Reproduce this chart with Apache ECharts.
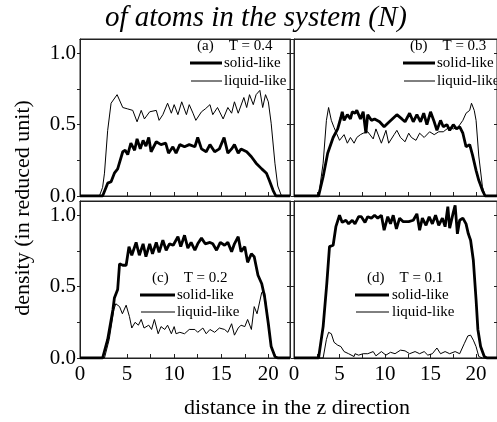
<!DOCTYPE html>
<html>
<head>
<meta charset="utf-8">
<script src="https://cdn.jsdelivr.net/npm/echarts@6/dist/echarts.min.js"></script>
<style>html,body{margin:0;padding:0;background:#fff;}#c{width:497px;height:422px;}</style>
</head>
<body>
<div id="c"></div>
<script>
// ---- data (z, density) ----
var xTicks = [0, 5, 10, 15, 20];
var yTicks = [0, 0.5, 1.0];
var panelLabels = ['(a)    T = 0.4', '(b)    T = 0.3', '(c)    T = 0.2', '(d)    T = 0.1'];
var seriesNames = ['solid-like', 'liquid-like'];

var aSolid = [[0,0],[2.4,0],[2.94,0.09],[3.3,0.10],[3.65,0.16],[4.0,0.19],[4.54,0.31],[4.8,0.32],[5.07,0.29],[5.4,0.37],[5.8,0.32],[6.06,0.40],[6.4,0.33],[6.7,0.39],[7.0,0.35],[7.3,0.41],[7.55,0.31],[8.1,0.38],[8.6,0.36],[9.1,0.37],[9.4,0.30],[9.86,0.345],[10.2,0.30],[10.6,0.36],[11.1,0.345],[11.6,0.36],[12.2,0.345],[12.5,0.41],[12.9,0.33],[13.4,0.31],[13.8,0.36],[14.3,0.31],[14.8,0.33],[15.3,0.41],[15.7,0.30],[16.1,0.33],[16.4,0.36],[16.8,0.30],[17.1,0.33],[17.7,0.31],[18.2,0.275],[18.7,0.23],[19.3,0.19],[19.8,0.16],[20.1,0.11],[20.5,0.04],[20.8,0],[22.3,0]];
var aLiquid = [[0,0],[2.06,0],[2.4,0.06],[2.6,0.16],[2.94,0.46],[3.3,0.65],[3.94,0.71],[4.54,0.62],[5.07,0.61],[5.6,0.60],[6.06,0.52],[6.5,0.60],[6.84,0.54],[7.4,0.59],[8.1,0.60],[8.4,0.53],[8.8,0.57],[9.3,0.65],[9.7,0.58],[10.0,0.64],[10.4,0.57],[10.8,0.66],[11.3,0.57],[11.6,0.64],[12.0,0.58],[12.3,0.53],[12.9,0.59],[13.3,0.61],[13.8,0.64],[14.1,0.57],[14.6,0.62],[15.2,0.54],[15.7,0.62],[16.1,0.58],[16.4,0.66],[16.8,0.58],[17.4,0.69],[17.7,0.62],[18.0,0.71],[18.4,0.64],[18.7,0.71],[19.1,0.74],[19.4,0.62],[19.7,0.71],[20.0,0.66],[20.3,0.51],[20.7,0.23],[21.0,0.07],[21.4,0],[22.3,0]];

var bSolid = [[0,0],[2.7,0],[3.2,0.135],[3.7,0.30],[4.3,0.41],[4.8,0.47],[5.15,0.55],[5.3,0.59],[5.5,0.53],[5.86,0.57],[6.2,0.54],[6.4,0.59],[6.7,0.58],[6.9,0.60],[7.3,0.54],[7.6,0.59],[7.9,0.44],[8.1,0.57],[8.5,0.53],[8.85,0.54],[9.4,0.52],[9.9,0.485],[10.3,0.51],[10.8,0.54],[11.3,0.57],[11.85,0.54],[12.2,0.52],[12.7,0.58],[13.1,0.52],[13.5,0.57],[13.9,0.52],[14.25,0.58],[14.6,0.50],[15.0,0.59],[15.4,0.52],[15.7,0.46],[16.1,0.53],[16.4,0.485],[16.8,0.50],[17.1,0.46],[17.5,0.50],[17.85,0.47],[18.2,0.485],[18.55,0.44],[18.9,0.345],[19.3,0.36],[19.6,0.29],[20.0,0.18],[20.3,0.11],[20.7,0.04],[21.0,0],[22.3,0]];
var bLiquid = [[0,0],[2.7,0],[3.2,0.23],[3.56,0.53],[3.8,0.62],[4.1,0.53],[4.4,0.48],[5.0,0.39],[5.5,0.43],[5.86,0.37],[6.2,0.41],[6.6,0.37],[6.9,0.41],[7.3,0.43],[7.6,0.44],[8.1,0.45],[8.7,0.40],[9.0,0.47],[9.6,0.37],[10.1,0.46],[10.4,0.37],[11.0,0.43],[11.3,0.46],[11.7,0.41],[12.2,0.38],[12.6,0.44],[12.9,0.41],[13.4,0.39],[13.8,0.44],[14.3,0.41],[14.9,0.45],[15.4,0.43],[15.9,0.45],[16.4,0.45],[17.0,0.48],[17.5,0.47],[18.0,0.48],[18.55,0.53],[18.9,0.58],[19.3,0.60],[19.5,0.65],[19.8,0.60],[20.0,0.53],[20.3,0.28],[20.7,0.065],[21.0,0],[22.3,0]];

var cSolid = [[0,0],[2.4,0],[2.94,0.13],[3.5,0.34],[3.65,0.42],[4.0,0.48],[4.2,0.66],[4.54,0.65],[4.9,0.65],[5.2,0.78],[5.5,0.72],[5.96,0.81],[6.3,0.72],[6.7,0.80],[7.0,0.71],[7.4,0.80],[7.7,0.73],[8.1,0.81],[8.4,0.74],[8.8,0.825],[9.15,0.755],[9.5,0.80],[9.9,0.79],[10.4,0.85],[10.7,0.78],[11.1,0.86],[11.45,0.77],[11.8,0.81],[12.2,0.755],[12.5,0.80],[12.9,0.84],[13.3,0.80],[13.8,0.81],[14.1,0.80],[14.5,0.755],[14.9,0.81],[15.35,0.79],[15.7,0.81],[16.1,0.745],[16.4,0.80],[16.8,0.85],[17.1,0.745],[17.5,0.78],[17.8,0.67],[18.2,0.73],[18.5,0.71],[18.9,0.58],[19.3,0.52],[19.6,0.43],[20.0,0.24],[20.3,0.08],[20.7,0.01],[21.0,0],[22.3,0]];
var cLiquid = [[0,0],[2.6,0],[3.1,0.13],[3.6,0.34],[3.8,0.38],[4.2,0.36],[4.5,0.31],[4.9,0.37],[5.25,0.29],[5.5,0.21],[5.85,0.25],[6.2,0.23],[6.5,0.27],[6.8,0.21],[7.3,0.23],[7.6,0.20],[7.9,0.27],[8.3,0.17],[8.6,0.22],[9.0,0.20],[9.3,0.23],[9.7,0.17],[10.0,0.22],[10.2,0.17],[10.6,0.18],[11.1,0.17],[11.6,0.20],[12.2,0.20],[12.5,0.18],[13.05,0.21],[13.4,0.17],[13.8,0.20],[14.3,0.18],[14.8,0.21],[15.35,0.20],[15.7,0.18],[16.1,0.24],[16.4,0.16],[16.8,0.21],[17.1,0.23],[17.5,0.22],[17.8,0.27],[18.2,0.20],[18.5,0.36],[18.8,0.31],[19.3,0.46],[19.6,0.46],[20.0,0.24],[20.3,0.08],[20.85,0],[22.3,0]];

var dSolid = [[0,0],[2.7,0],[3.2,0.22],[3.6,0.52],[3.9,0.78],[4.3,0.79],[4.6,0.92],[5.0,1.0],[5.3,0.95],[5.7,0.965],[6.0,0.94],[6.4,0.965],[6.7,0.94],[7.1,0.99],[7.4,0.99],[7.8,0.95],[8.1,0.99],[8.5,0.98],[8.85,1.0],[9.2,0.98],[9.6,1.0],[9.9,0.895],[10.3,0.99],[10.6,0.94],[10.9,1.0],[11.25,0.905],[11.6,0.98],[12.0,0.955],[12.6,0.955],[13.1,0.965],[13.5,1.01],[13.8,0.895],[14.1,0.98],[14.5,0.93],[14.85,0.99],[15.2,0.94],[15.55,1.0],[15.9,0.93],[16.3,0.98],[16.6,0.92],[16.9,1.06],[17.1,0.91],[17.5,1.02],[17.7,1.07],[17.95,0.87],[18.2,0.965],[18.55,0.98],[18.9,0.94],[19.15,0.87],[19.4,0.825],[19.7,0.685],[20.0,0.41],[20.2,0.20],[20.5,0.08],[20.9,0.01],[21.2,0],[22.3,0]];
var dLiquid = [[0,0],[3.2,0],[3.56,0.13],[3.8,0.18],[4.1,0.17],[4.4,0.11],[4.8,0.09],[5.15,0.08],[5.5,0.045],[6.0,0.03],[6.6,0.01],[6.7,0.03],[7.1,0.02],[7.6,0.03],[8.1,0.03],[8.7,0.045],[9.0,0.015],[9.6,0.045],[10.1,0.02],[10.6,0.04],[11.1,0.03],[11.7,0.055],[12.2,0.05],[12.7,0.03],[13.3,0.045],[13.8,0.03],[14.3,0.045],[14.7,0.02],[15.2,0.03],[15.7,0.07],[16.1,0.03],[16.6,0.045],[17.1,0.03],[17.7,0.045],[18.2,0.03],[18.7,0.10],[19.1,0.155],[19.4,0.16],[19.7,0.125],[20.0,0.08],[20.3,0.01],[20.7,0],[22.3,0]];

var panels = [[aSolid, aLiquid], [bSolid, bLiquid], [cSolid, cLiquid], [dSolid, dLiquid]];

// ---- layout ----
var FONT = "'Liberation Serif', 'Times New Roman', serif";
var grids = [
  {left: 80, top: 39, width: 210, height: 157},
  {left: 294, top: 39, width: 210, height: 157},
  {left: 80, top: 201, width: 210, height: 157},
  {left: 294, top: 201, width: 210, height: 157}
];
var X_MAX = 22.3, Y_MAX = 1.1;

function near(v, arr) {
  for (var i = 0; i < arr.length; i++) if (Math.abs(v - arr[i]) < 1e-6) return true;
  return false;
}

var xAxes = [], yAxes = [], series = [];
grids.forEach(function (g, i) {
  g.show = true; g.borderColor = '#222'; g.borderWidth = 1;
  var bottomRow = i >= 2, leftCol = (i % 2 === 0);
  xAxes.push({
    type: 'value', gridIndex: i, min: 0, max: X_MAX, interval: 2.5, position: 'bottom',
    axisLine: {show: true, onZero: false, lineStyle: {color: '#222'}},
    axisTick: {show: true, inside: true, length: 4, lineStyle: {color: '#222'}},
    splitLine: {show: false},
    axisLabel: {show: bottomRow, margin: 6, color: '#000', fontFamily: FONT, fontSize: 21,
      showMaxLabel: false,
      formatter: function (v) { return near(v, xTicks) ? String(Math.round(v)) : ''; }}
  });
  xAxes.push({
    type: 'value', gridIndex: i, min: 0, max: X_MAX, interval: 2.5, position: 'top',
    axisLine: {show: true, onZero: false, lineStyle: {color: '#222'}},
    axisTick: {show: false},
    splitLine: {show: false}, axisLabel: {show: false}
  });
  yAxes.push({
    type: 'value', gridIndex: i, min: 0, max: Y_MAX, interval: 0.25, position: 'left',
    axisLine: {show: true, onZero: false, lineStyle: {color: '#222'}},
    axisTick: {show: true, inside: false, length: 3, lineStyle: {color: '#222'}},
    splitLine: {show: false},
    axisLabel: {show: leftCol, margin: 4, color: '#000', fontFamily: FONT, fontSize: 21,
      showMaxLabel: false,
      formatter: function (v) { return near(v, yTicks) ? v.toFixed(1) : ''; }}
  });
  yAxes.push({
    type: 'value', gridIndex: i, min: 0, max: Y_MAX, interval: 0.25, position: 'right',
    axisLine: {show: true, onZero: false, lineStyle: {color: '#222'}},
    axisTick: {show: true, inside: true, length: 3, lineStyle: {color: '#222'}},
    splitLine: {show: false}, axisLabel: {show: false}
  });
  series.push({
    name: seriesNames[0], type: 'line', xAxisIndex: i * 2, yAxisIndex: i * 2,
    data: panels[i][0], showSymbol: false, symbol: 'none', smooth: false,
    lineStyle: {color: '#000', width: 2.8}, z: 3
  });
  series.push({
    name: seriesNames[1], type: 'line', xAxisIndex: i * 2, yAxisIndex: i * 2,
    data: panels[i][1], showSymbol: false, symbol: 'none', smooth: false,
    lineStyle: {color: '#000', width: 1}, z: 2
  });
});

// legend blocks (title x, title y, line x1, line x2, text x, solid y, liquid y)
var legendPos = [
  [197, 46, 190, 222, 224, 63, 81],
  [410, 46, 403, 435, 437, 63, 81],
  [152, 278, 140, 175, 177, 295, 312],
  [367, 278, 355, 389, 392, 295, 312]
];
var graphics = [];
function txt(x, y, s, size, extra) {
  var o = {type: 'text', x: x, y: y, silent: true,
    style: {text: s, fill: '#000', font: (extra && extra.italic ? 'italic ' : '') + size + 'px ' + FONT,
      textAlign: (extra && extra.align) || 'left', textVerticalAlign: 'middle'}};
  if (extra && extra.rotation) o.rotation = extra.rotation;
  return o;
}
legendPos.forEach(function (p, i) {
  graphics.push(txt(p[0], p[1], panelLabels[i], 15));
  graphics.push({type: 'line', silent: true, shape: {x1: p[2], y1: p[5], x2: p[3], y2: p[5]}, style: {stroke: '#000', lineWidth: 3}});
  graphics.push(txt(p[4], p[5], seriesNames[0], 15));
  graphics.push({type: 'line', silent: true, shape: {x1: p[2] + 1, y1: p[6], x2: p[3], y2: p[6]}, style: {stroke: '#000', lineWidth: 1}});
  graphics.push(txt(p[4], p[6], seriesNames[1], 15));
});
graphics.push(txt(256, 18, 'of atoms in the system (N)', 29, {italic: true, align: 'center'}));
graphics.push(txt(297, 408, 'distance in the z direction', 22, {align: 'center'}));
graphics.push(txt(23, 208, 'density (in reduced unit)', 22, {align: 'center', rotation: Math.PI / 2}));

var chart = echarts.init(document.getElementById('c'), null, {renderer: 'canvas'});
chart.setOption({
  animation: false,
  backgroundColor: '#fff',
  grid: grids,
  xAxis: xAxes,
  yAxis: yAxes,
  series: series,
  graphic: graphics
});
</script>
</body>
</html>
